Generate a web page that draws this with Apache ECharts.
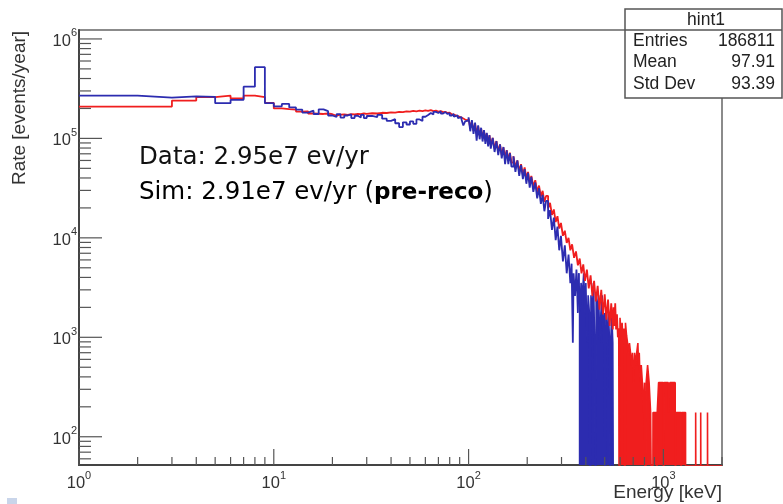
<!DOCTYPE html>
<html><head><meta charset="utf-8">
<script src="https://cdn.jsdelivr.net/npm/echarts@6/dist/echarts.min.js"></script>
<style>html,body{margin:0;padding:0;background:#fff}#c{width:783px;height:504px}</style>
</head><body><div id="c"></div>
<script>
// ---- axis ranges and ticks ----
const X_MIN = 1, X_MAX = 2000, Y_MIN = 52, Y_MAX = 1.23e6;
const xMajorTicks = [1, 10, 100, 1000];
const xMinorTicks = [2,3,4,5,6,7,8,9,20,30,40,50,60,70,80,90,200,300,400,500,600,700,800,900,2000];
const yMajorTicks = [1e2, 1e3, 1e4, 1e5, 1e6];
const yMinorTicks = [60,70,80,90,200,300,400,500,600,700,800,900,2e3,3e3,4e3,5e3,6e3,7e3,8e3,9e3,
  2e4,3e4,4e4,5e4,6e4,7e4,8e4,9e4,2e5,3e5,4e5,5e5,6e5,7e5,8e5,9e5];

// ---- histogram data: [bin low edge (keV), rate (events/year)]; 1 = empty bin ----
const dataMain = [[1,2.69e5],[2,2.57e5],[3,2.65e5],[4,2.62e5],[5,2.26e5],[6,2.44e5],[7,3.31e5],[8,5.2e5],[9,2.26e5],
[10,2.10e5],[11,2.22e5],[12,2.05e5],[13,1.95e5],[14,1.82e5],[15,1.90e5],[16,1.76e5],[17,1.96e5],[18,1.88e5],[19,1.70e5],
[20,1.64e5],[21,1.75e5],[22,1.62e5],[23,1.70e5],[24,1.74e5],[25,1.60e5],[26,1.69e5],[27,1.62e5],[28,1.72e5],[29,1.60e5],
[30,1.68e5],[32,1.64e5],[34,1.72e5],[36,1.58e5],[38,1.50e5],[40,1.56e5],[42,1.42e5],[44,1.30e5],[46,1.45e5],[48,1.38e5],
[50,1.48e5],[52,1.40e5],[54,1.55e5],[56,1.50e5],[58,1.65e5],[60,1.72e5],[62,1.80e5],[64,1.74e5],[66,1.85e5],[68,1.80e5],
[70,1.88e5],[72,1.78e5],[74,1.84e5],[76,1.76e5],[78,1.80e5],[80,1.70e5],[82,1.76e5],[84,1.65e5],[86,1.70e5],[88,1.60e5],
[90,1.64e5],[92,1.55e5],[94,1.35e5],[96,1.48e5],[98,1.52e5],
[100,1.63e5],[102,1.18e5],[104,1.53e5],[106,1.11e5],[108,1.44e5],[110,0.95e5],[112,1.35e5],[114,9.8e4],[116,1.28e5],[118,9.3e4],
[120,1.21e5],[122,8.8e4],[124,1.14e5],[126,8.3e4],[128,1.08e5],[130,7.9e4],[133,1.01e5],[136,7.3e4],[139,9.4e4],[142,6.8e4],
[145,8.7e4],[148,6.3e4],[151,8.2e4],[154,5.5e4],[157,7.6e4],[160,5.5e4],[163,7.1e4],[166,5.2e4],[170,6.6e4],[174,4.6e4],
[178,6.0e4],[182,4.2e4],[186,5.4e4],[190,3.9e4],[194,4.9e4],[198,3.5e4],[202,4.5e4],[206,3.2e4],[210,4.1e4],[215,2.9e4],
[220,3.6e4],[225,2.5e4],[230,3.15e4],[235,2.2e4],[240,2.7e4],[245,1.85e4],[250,2.35e4],[256,1.55e4],[262,1.9e4],[268,1.2e4],
[274,1.6e4],[280,9.5e3],[286,1.3e4],[292,7.5e3],[298,1.05e4],[305,5.8e3],[312,8.4e3],[319,4.4e3],[326,6.8e3],[333,3.5e3],
[338,5.5e3],[343,880],[346,4.4e3],[352,2.6e3],[358,4.8e3],[364,1.76e3],[368,4400]];
const dataTail = [[368,4400],[373,1760],[378,3520],[384,2640],[390,4400],[396,1760],[400,3520],[406,880],[411,2640],[417,1760],
[422,1],[425,2640],[431,1760],[438,3520],[444,880],[449,1],[452,2640],[458,1760],[465,2640],[472,880],[478,1760],[485,2640],
[492,880],[498,1760],[504,1],[508,1760],[515,880],[522,1760],[530,880],[534,1],[537,880],[543,1760],[550,880],[556,1]];

const simMain = [[1,2.09e5],[2,2.09e5],[3,2.40e5],[4,2.60e5],[5,2.69e5],[6,2.52e5],[7,2.69e5],[8,2.60e5],[9,2.28e5],
[10,2.00e5],[11,1.97e5],[12,1.95e5],[13,1.86e5],[14,1.87e5],[15,1.78e5],[16,1.77e5],[17,1.76e5],[18,1.78e5],[19,1.75e5],
[20,1.69e5],[21,1.73e5],[22,1.74e5],[23,1.72e5],[24,1.75e5],[25,1.74e5],[26,1.76e5],[27,1.75e5],[28,1.78e5],[29,1.76e5],
[30,1.79e5],[32,1.78e5],[34,1.81e5],[36,1.80e5],[38,1.83e5],[40,1.82e5],[42,1.85e5],[44,1.84e5],[46,1.87e5],[48,1.86e5],
[50,1.89e5],[52,1.87e5],[54,1.90e5],[56,1.88e5],[58,1.91e5],[60,1.89e5],[62,1.92e5],[64,1.88e5],[66,1.90e5],[68,1.86e5],
[70,1.88e5],[72,1.84e5],[74,1.85e5],[76,1.80e5],[78,1.81e5],[80,1.75e5],[82,1.74e5],[84,1.70e5],[86,1.68e5],[88,1.64e5],
[90,1.62e5],[92,1.58e5],[94,1.55e5],[96,1.52e5],[98,1.50e5],
[100,1.58e5],[102,1.27e5],[104,1.49e5],[106,1.19e5],[108,1.40e5],[110,1.12e5],[112,1.32e5],[114,1.06e5],[116,1.25e5],[118,1.0e5],
[120,1.19e5],[122,9.5e4],[124,1.12e5],[126,8.9e4],[128,1.07e5],[130,8.6e4],[133,1.01e5],[136,7.9e4],[139,9.4e4],[142,7.4e4],
[145,8.7e4],[148,6.8e4],[151,8.1e4],[154,6.4e4],[157,7.6e4],[160,6.0e4],[163,7.2e4],[166,5.7e4],[170,6.6e4],[174,5.1e4],
[178,6.0e4],[182,4.7e4],[186,5.5e4],[190,4.3e4],[194,5.1e4],[198,4.0e4],[202,4.6e4],[206,3.6e4],[210,4.2e4],[215,3.3e4],
[220,3.8e4],[225,2.9e4],[230,3.35e4],[235,2.6e4],[240,2.97e4],[245,2.3e4],[250,2.64e4],[256,1.98e4],[262,2.25e4],[268,1.7e4],
[274,1.93e4],[280,1.44e4],[286,1.65e4],[292,1.24e4],[298,1.41e4],[305,1.05e4],[312,1.18e4],[319,8.9e3],[326,1.0e4],[333,7.5e3],
[340,8.6e3],[348,6.3e3],[356,7.3e3],[364,5.3e3],[372,6.2e3],[380,4.4e3],[388,5.4e3],[396,3.7e3],[405,4.8e3],[414,3.1e3],
[423,4.2e3],[432,2.6e3],[441,3.7e3],[450,2.3e3],[460,3.3e3],[470,1.9e3],[480,3.0e3],[490,1.7e3],[500,2.7e3],[510,1.5e3],
[520,2.4e3],[530,1.3e3],[540,2.2e3],[550,1.2e3],[555,2.0e3],[560,1.3e3],[566,2.2e3],[572,1.2e3],[578,1.7e3],[584,1.0e3],[590,1225]];
const simTail = [[590,1225],[596,1],[599,1575],[607,1050],[614,1400],[621,875],[628,1225],[636,1],[639,1400],[647,1050],
[655,875],[662,700],[670,875],[678,700],[686,525],[694,700],[703,350],[712,700],[721,525],[730,700],[740,875],[745,525],
[752,700],[760,350],[770,525],[780,350],[790,175],[800,350],[812,1],[816,350],[830,525],[845,350],[860,175],[880,1],
[885,175],[925,1],[930,175],[945,350],[1000,1],[1010,350],[1060,175],[1080,350],[1150,1],[1160,175],[1230,1],[1240,175],
[1300,1],[1465,175],[1475,1],[1555,175],[1565,1],[1685,175],[1695,1],[2000,1]];

// ---- texts ----
const statsTitle = 'hint1';
const statsRows = [['Entries', '186811'], ['Mean', '97.91'], ['Std Dev', '93.39']];
const note1 = 'Data: 2.95e7 ev/yr';
const note2a = 'Sim: 2.91e7 ev/yr (', note2b = 'pre-reco', note2c = ')';
const yTitle = 'Rate [events/year]';
const xTitle = 'Energy [keV]';

const BLUE = '#2c2cb0', RED = '#f01e1e';

const chart = echarts.init(document.getElementById('c'), null, {renderer: 'canvas', devicePixelRatio: 1});

function supFmt(v) {
  const l = Math.log10(v), e = Math.round(l);
  if (Math.abs(l - e) > 0.01) return '';
  return '{b|10}{s|' + e + '}';
}
const labelRich = {
  b: {fontSize: 16.5, fontFamily: 'Liberation Sans', color: '#333', lineHeight: 22, verticalAlign: 'bottom'},
  s: {fontSize: 11, fontFamily: 'Liberation Sans', color: '#333', lineHeight: 10, verticalAlign: 'top'}
};
function tickSeries(ticks, axis, len) {
  return {
    type: 'custom', silent: true, clip: false, z: 6, animation: false,
    data: ticks.map(t => axis === 'x' ? [t, Y_MIN] : [X_MIN, t]),
    renderItem: (params, api) => {
      const p = api.coord([api.value(0), api.value(1)]);
      const shape = axis === 'x'
        ? {x1: p[0], y1: p[1], x2: p[0], y2: p[1] - len}
        : {x1: p[0], y1: p[1], x2: p[0] + len, y2: p[1]};
      return {type: 'line', shape, style: {stroke: '#555', lineWidth: 1.2}};
    }
  };
}
function hist(data, color, z, area, width) {
  const s = {type: 'line', step: 'end', data, symbol: 'none', showSymbol: false, z, animation: false,
    silent: true, clip: true, lineStyle: {color, width}, itemStyle: {color}};
  if (area) s.areaStyle = {color, opacity: 1};
  return s;
}

const txt = (x, y, text, size, family, align, extra) => ({type: 'text', x, y, z: 10,
  style: Object.assign({text, fontSize: size, fontFamily: family, fill: '#222', align, verticalAlign: 'middle',
    textAlign: align, textVerticalAlign: 'middle'}, extra || {})});

chart.setOption({
  animation: false,
  grid: {left: 79, right: 61, top: 30, bottom: 39, show: true, borderColor: '#666', borderWidth: 1.5, backgroundColor: 'transparent'},
  xAxis: {type: 'log', logBase: 10, min: X_MIN, max: X_MAX,
    axisLine: {show: true, onZero: false, lineStyle: {color: '#444', width: 2}},
    axisTick: {show: false}, minorTick: {show: false}, splitLine: {show: false},
    axisLabel: {formatter: supFmt, margin: 5, rich: labelRich}},
  yAxis: {type: 'log', logBase: 10, min: Y_MIN, max: Y_MAX,
    axisLine: {show: true, onZero: false, lineStyle: {color: '#444', width: 2}},
    axisTick: {show: false}, minorTick: {show: false}, splitLine: {show: false},
    axisLabel: {formatter: supFmt, margin: 2, rich: labelRich}},
  series: [
    hist(dataTail, BLUE, 1, true, 1.6),
    hist(simMain, RED, 2, false, 1.8),
    hist(simTail, RED, 2, true, 1.6),
    hist(dataMain, BLUE, 3, false, 1.8),
    tickSeries(xMajorTicks, 'x', 16),
    tickSeries(xMinorTicks, 'x', 8),
    tickSeries(yMajorTicks, 'y', 23),
    tickSeries(yMinorTicks, 'y', 12)
  ],
  graphic: [
    txt(20, 108, yTitle, 19, 'Liberation Sans', 'center', {fill: '#333'}),
    Object.assign(txt(20, 108, '', 1, 'Liberation Sans', 'center'), {invisible: true}),
    txt(722, 493, xTitle, 19, 'Liberation Sans', 'right', {fill: '#333'}),
    txt(139, 158, note1, 24.5, 'DejaVu Sans', 'left', {fill: '#111'}),
    {type: 'text', x: 139, y: 193, z: 10,
      style: {text: '{n|' + note2a + '}{bd|' + note2b + '}{n|' + note2c + '}', align: 'left', verticalAlign: 'middle', textAlign: 'left', textVerticalAlign: 'middle',
        rich: {n: {fontSize: 24.5, fontFamily: 'DejaVu Sans', color: '#111'}, bd: {fontSize: 23, fontFamily: 'DejaVu Sans', fontWeight: 'bold', color: '#111'}}}},
    {type: 'group', z: 20, children: [
      {type: 'rect', shape: {x: 625, y: 9, width: 157, height: 89}, style: {fill: '#fff', stroke: '#555', lineWidth: 1.5}},
      {type: 'line', shape: {x1: 625, y1: 30, x2: 782, y2: 30}, style: {stroke: '#555', lineWidth: 1.5}},
      txt(706, 20, statsTitle, 17.5, 'Liberation Sans', 'center'),
      ...statsRows.flatMap((r, i) => [
        txt(633, 41 + i * 21.5, r[0], 17.5, 'Liberation Sans', 'left'),
        txt(775, 41 + i * 21.5, r[1], 17.5, 'Liberation Sans', 'right')
      ])
    ]},
    {type: 'rect', shape: {x: 7, y: 498, width: 10, height: 6}, style: {fill: '#c9d5ea'}}
  ]
});
// rotate the y title
const opt = chart.getOption();
opt.graphic[0].elements[0].rotation = Math.PI / 2;
chart.setOption({graphic: opt.graphic});
</script></body></html>
